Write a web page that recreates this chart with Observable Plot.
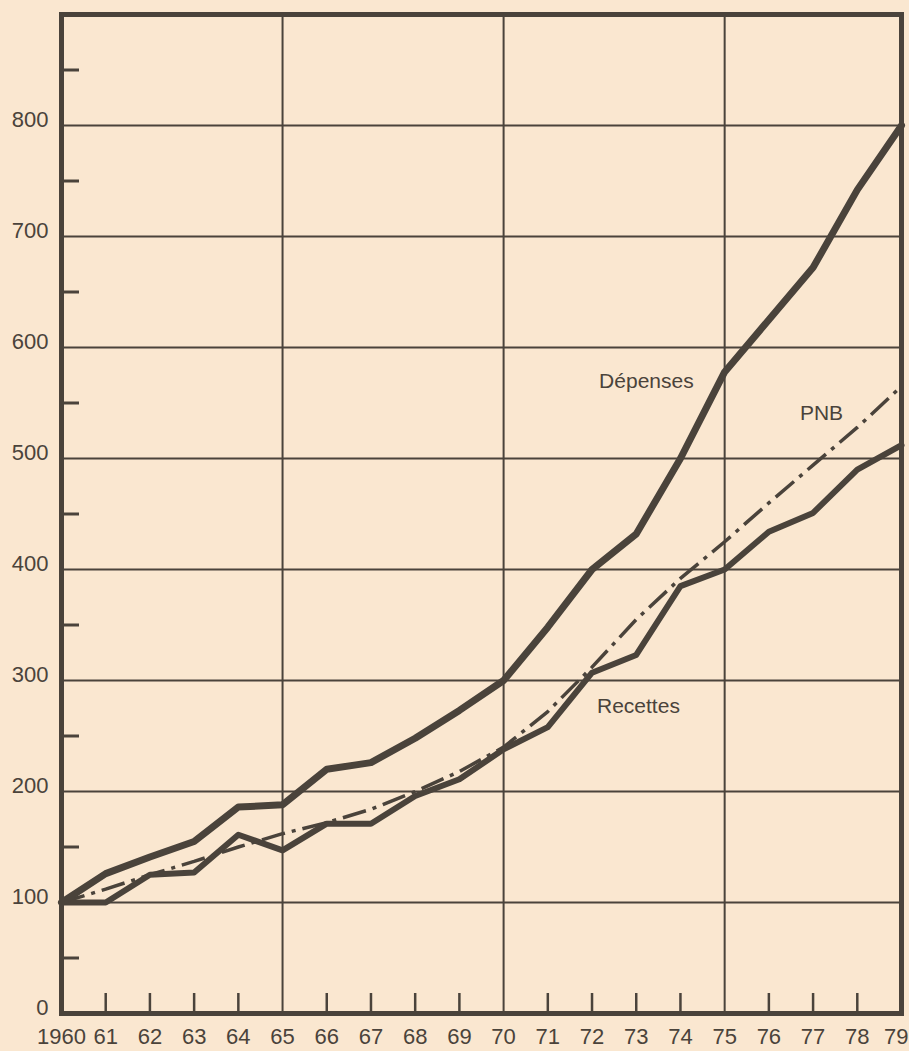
<!DOCTYPE html>
<html>
<head>
<meta charset="utf-8">
<script src="https://cdn.jsdelivr.net/npm/d3@7"></script>
<script src="https://cdn.jsdelivr.net/npm/@observablehq/plot@0.6"></script>
<style>
  html, body { margin: 0; padding: 0; background: #fae7d0; }
  #chart svg { display: block; }
</style>
</head>
<body>
<div id="chart"></div>
<script>
// ---- data ----
const years = [1960,1961,1962,1963,1964,1965,1966,1967,1968,1969,1970,1971,1972,1973,1974,1975,1976,1977,1978,1979];
const depenses = [100,126,141,155,186,188,220,226,248,273,300,348,400,432,500,578,625,672,742,800];
const recettes = [100,100,125,127,161,147,171,171,196,211,238,258,307,323,385,400,434,451,490,512];
const pnb      = [100,112,125,137,150,162,172,184,200,218,240,272,312,355,392,425,460,494,528,565];

const yTicks = [0,100,200,300,400,500,600,700,800];
const yGrid = [100,200,300,400,500,600,700,800];
const yMinor = [50,150,250,350,450,550,650,750,850];
const xGrid = [1965,1970,1975];
const xMinor = [1961,1962,1963,1964,1966,1967,1968,1969,1971,1972,1973,1974,1976,1977,1978];
const xTicksMain = [1960,1961,1962,1963,1964,1965,1966,1967,1968,1969,1970,1971,1972,1973,1974,1975,1976,1977,1978];
const xTickLast = [1979];
const xLabel = d => d === 1960 ? "1960" : String(d).slice(2);

const labelNames = ["Dépenses","PNB","Recettes"];
const labelYears = [1973.23,1977.19,1973.05];
const labelValues = [570,541,277];

// ---- tables ----
const toRows = vals => years.map((year, i) => ({year, value: vals[i]}));
const labels = labelNames.map((name, i) => ({name, year: labelYears[i], value: labelValues[i]}));

const ink = "#4a433b";
const bg = "#fae7d0";
const W = 909, H = 1051, mL = 61, mR = 8, mT = 14, mB = 38;
const innerW = W - mL - mR, innerH = H - mT - mB;
const font = "'Liberation Sans', Arial, Helvetica, sans-serif";

const chart = Plot.plot({
  width: W, height: H,
  marginLeft: mL, marginRight: mR, marginTop: mT, marginBottom: mB,
  x: {domain: [1960, 1979]},
  y: {domain: [0, 900]},
  style: {background: bg, color: ink, fontFamily: font},
  marks: [
    Plot.ruleY(yGrid, {stroke: ink, strokeWidth: 2}),
    Plot.ruleX(xGrid, {stroke: ink, strokeWidth: 2}),
    Plot.tickY(yMinor, {stroke: ink, strokeWidth: 3, insetRight: innerW - 18}),
    Plot.tickX(xMinor, {stroke: ink, strokeWidth: 2.5, insetTop: innerH - 20}),
    Plot.line(toRows(pnb), {x: "year", y: "value", stroke: ink, strokeWidth: 3.5, strokeDasharray: "24,7,4,7", strokeLinecap: "butt"}),
    Plot.line(toRows(recettes), {x: "year", y: "value", stroke: ink, strokeWidth: 6, strokeLinejoin: "round"}),
    Plot.line(toRows(depenses), {x: "year", y: "value", stroke: ink, strokeWidth: 7, strokeLinejoin: "round"}),
    Plot.text(labels, {x: "year", y: "value", text: "name", fill: ink, fontSize: 21}),
    Plot.frame({stroke: ink, strokeWidth: 5}),
    Plot.axisY(yTicks, {anchor: "left", tickSize: 0, tickPadding: 13, fontSize: 22, dy: -6, label: null, fill: ink}),
    Plot.axisX(xTicksMain, {anchor: "bottom", tickSize: 0, tickPadding: 15, fontSize: 22, tickFormat: xLabel, label: null, fill: ink}),
    Plot.axisX(xTickLast, {anchor: "bottom", tickSize: 0, tickPadding: 15, fontSize: 22, tickFormat: xLabel, label: null, fill: ink, textAnchor: "end", dx: 7})
  ]
});
document.getElementById("chart").append(chart);
</script>
</body>
</html>
